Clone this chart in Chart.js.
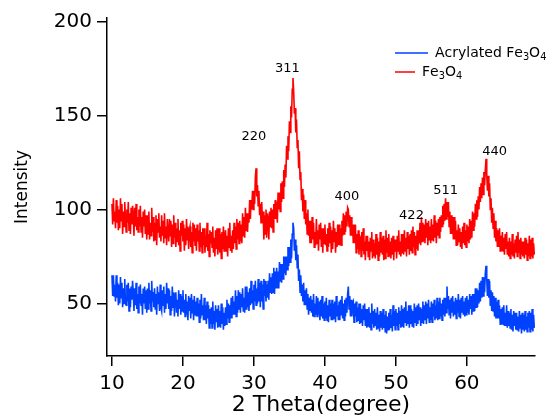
<!DOCTYPE html>
<html>
<head>
<meta charset="utf-8">
<script src="https://cdn.jsdelivr.net/npm/chart.js@4/dist/chart.umd.min.js"></script>
<style>
  html, body { margin: 0; padding: 0; background: #fff; }
  canvas { display: block; }
</style>
</head>
<body>
<canvas id="xrd" width="554" height="416"></canvas>
<script>
// 2 theta grid of the scan: 10.0 .. 69.5 in steps of 0.1 degree
const thetaStart = 10;
const thetaStep = 0.1;

const seriesNames = ['Acrylated Fe3O4', 'Fe3O4'];

// intensities, one row per degree (10.0 .. 10.9, 11.0 .. 11.9, ...)
const acrylated = [
  65,54,65,54,60,51,65,53,61,49,
  60,50,64,53,61,48,58,50,63,50,
  49,60,51,61,46,58,48,59,52,62,
  56,46,58,49,61,47,55,45,59,50,
  60,49,55,44,58,50,59,47,57,45,
  58,47,61,50,57,46,62,51,56,48,
  58,47,55,44,59,50,56,46,60,48,
  46,57,49,59,45,55,47,61,50,58,
  47,57,44,54,46,59,48,56,43,55,
  56,45,52,43,57,47,55,44,54,46,
  57,45,52,43,55,44,51,41,54,46,
  53,42,55,45,52,41,54,44,51,43,
  53,43,50,40,52,42,55,44,49,41,
  53,41,49,39,51,42,49,37,47,39,
  48,37,51,39,46,36,49,40,47,37,
  49,38,46,37,50,39,48,36,45,38,
  48,39,52,42,50,40,49,42,53,42,
  54,44,51,44,57,43,54,45,57,47,
  56,45,55,48,58,46,53,45,59,47,
  59,48,56,46,58,49,62,50,57,47,
  60,51,62,49,58,50,63,51,61,48,
  62,51,60,47,63,54,62,51,60,53,
  62,52,66,56,64,55,66,56,69,55,
  67,58,69,58,67,58,72,62,71,61,
  71,63,75,66,75,65,75,68,80,70,
  80,72,84,74,87,93,90,78,84,73,
  81,69,76,62,68,56,65,54,60,51,
  61,49,57,49,58,47,55,44,53,46,
  54,45,52,43,55,43,50,44,54,43,
  53,44,51,41,52,43,54,42,50,41,
  51,42,53,41,49,40,52,43,50,41,
  52,41,50,42,51,40,54,43,49,41,
  51,41,52,44,54,42,50,41,52,43,
  53,45,55,59,47,54,43,52,43,50,
  51,40,50,43,51,40,48,41,50,39,
  50,40,47,38,49,41,50,38,47,37,
  47,38,48,37,45,36,50,39,46,37,
  47,38,45,36,48,37,44,35,46,37,
  45,36,47,37,44,35,46,34,43,36,
  45,36,47,37,44,35,49,38,46,36,
  47,38,45,36,48,39,46,37,49,38,
  47,37,48,40,51,38,46,39,49,37,
  49,39,47,38,46,37,50,40,48,38,
  49,39,50,41,48,38,47,40,51,39,
  49,41,51,39,50,42,52,40,48,41,
  51,40,50,43,52,41,49,42,53,41,
  51,42,53,43,50,41,52,44,53,43,
  53,45,59,47,54,44,52,42,53,45,
  54,43,51,44,53,42,52,45,55,43,
  52,42,53,45,54,44,51,43,53,44,
  54,45,52,44,55,47,54,44,55,46,
  55,46,58,48,58,48,57,50,61,51,
  62,53,64,54,64,56,66,70,63,54,
  63,53,62,49,57,46,56,46,54,43,
  53,42,51,42,52,42,49,39,47,39,
  48,39,49,38,45,38,49,37,46,38,
  45,37,47,36,44,35,46,38,45,36,
  45,36,43,35,46,37,44,34,45,36,
  44,35,46,36,43,35,45,37,46,35,
  45,36,47,35,44,37
];

const bare = [
  103,92,106,94,99,90,105,93,102,89,
  100,90,106,94,103,87,99,91,104,95,
  88,100,93,104,89,98,87,101,92,102,
  97,86,101,91,103,89,96,88,100,91,
  102,88,96,85,99,91,100,87,97,84,
  97,87,99,84,93,86,101,88,96,83,
  93,84,97,81,95,88,98,85,91,83,
  97,86,94,82,98,85,91,81,95,88,
  83,95,86,94,80,92,82,97,85,93,
  80,90,83,95,81,89,78,93,86,94,
  83,92,78,90,81,95,84,91,79,89,
  91,80,88,77,93,83,92,81,90,78,
  92,83,89,78,93,80,88,77,90,81,
  90,77,86,80,93,78,87,75,89,82,
  88,80,91,77,85,75,89,79,90,76,
  81,90,77,87,74,88,79,91,78,86,
  89,78,86,75,90,80,93,78,86,77,
  89,79,93,82,91,79,95,84,93,82,
  94,83,92,82,98,86,96,85,101,89,
  98,88,98,93,105,95,105,100,110,100,
  110,103,117,122,107,113,102,110,97,103,
  93,104,93,99,84,97,87,100,85,98,
  95,84,99,91,101,90,100,88,103,95,
  105,95,104,93,109,100,109,99,114,104,
  115,106,121,112,124,117,134,127,139,131,
  147,141,155,149,164,170,163,151,154,141,
  148,133,137,122,131,116,120,105,111,99,
  108,95,105,92,98,87,100,86,94,82,
  94,82,96,84,93,80,88,81,95,82,
  89,78,92,84,93,80,90,77,90,82,
  92,81,87,78,90,80,93,82,91,77,
  89,79,94,83,90,77,88,80,92,81,
  92,81,90,81,94,86,98,87,97,88,
  99,91,101,100,91,97,86,96,86,92,
  82,92,82,92,77,87,79,89,76,86,
  85,75,88,78,90,76,83,73,86,78,
  86,75,83,73,85,78,88,74,84,75,
  82,74,87,76,85,73,83,75,88,77,
  85,76,86,73,84,74,89,77,85,75,
  87,75,83,74,85,76,86,73,84,78,
  84,74,86,78,89,76,83,75,87,77,
  87,76,89,78,85,75,88,79,86,76,
  87,78,89,77,91,80,88,76,86,79,
  89,78,89,82,93,81,96,83,93,83,
  92,82,95,85,93,81,94,84,91,82,
  95,84,92,83,97,85,94,82,93,86,
  95,85,96,88,97,91,102,92,103,94,
  106,95,104,96,104,91,99,87,97,87,
  96,84,96,84,94,81,89,81,92,83,
  90,80,88,79,91,82,93,81,89,80,
  92,83,91,82,95,84,94,85,99,89,
  98,91,103,95,105,96,107,100,112,104,
  114,106,117,108,120,113,121,127,119,110,
  118,107,114,100,106,93,101,90,98,85,
  94,83,90,80,89,80,90,78,86,78,
  88,78,85,76,87,79,88,76,83,75,
  85,74,83,76,87,75,82,74,84,77,
  86,75,88,77,84,74,85,76,83,75,
  83,74,85,76,84,73,82,75,86,74,
  84,75,85,74,82,76
];

// reflection indices and where their labels sit (2 theta, intensity)
const peakNames = ['220', '311', '400', '422', '511', '440'];
const peakTheta = [30.0, 34.7, 43.1, 52.2, 57.0, 63.9];
const peakLabelY = [139, 175, 107, 97, 110, 131];

const xTicks = [10, 20, 30, 40, 50, 60];
const yTicks = [50, 100, 150, 200];

const toPoints = (vals) => vals.map((v, i) => ({ x: +(thetaStart + i * thetaStep).toFixed(1), y: v }));

// writes "Fe3O4" with the digits as subscripts
function drawFormula(ctx, text, x, y, size) {
    let cx = x;
    for (const ch of text) {
        const sub = /[0-9]/.test(ch);
        ctx.font = (sub ? size * 0.7 : size) + "px 'DejaVu Sans', sans-serif";
        ctx.fillText(ch, cx, sub ? y + size * 0.3 : y);
        cx += ctx.measureText(ch).width;
    }
}

const peakLabelPlugin = {
    id: 'peakLabels',
    afterDatasetsDraw(chart) {
        const { ctx, scales } = chart;
        ctx.save();
        ctx.fillStyle = '#000';
        ctx.font = "13px 'DejaVu Sans', sans-serif";
        ctx.textAlign = 'center';
        ctx.textBaseline = 'middle';
        peakNames.forEach((name, i) => {
            ctx.fillText(name, scales.x.getPixelForValue(peakTheta[i]), scales.y.getPixelForValue(peakLabelY[i]));
        });
        ctx.restore();
    }
};

// legend with chemical subscripts, top right inside the plot
const formulaLegendPlugin = {
    id: 'formulaLegend',
    afterDraw(chart) {
        const ctx = chart.ctx;
        const rows = [
            { name: seriesNames[0], color: '#0040ff', x0: 395, x1: 428, tx: 435, y: 53 },
            { name: seriesNames[1], color: '#ff0000', x0: 395, x1: 415, tx: 422, y: 72 }
        ];
        ctx.save();
        ctx.textBaseline = 'middle';
        ctx.textAlign = 'left';
        rows.forEach(r => {
            ctx.strokeStyle = r.color;
            ctx.lineWidth = 1.5;
            ctx.beginPath();
            ctx.moveTo(r.x0, r.y);
            ctx.lineTo(r.x1, r.y);
            ctx.stroke();
            ctx.fillStyle = '#000';
            drawFormula(ctx, r.name, r.tx, r.y, 14);
        });
        ctx.restore();
    }
};

Chart.defaults.font.family = "'DejaVu Sans', sans-serif";
Chart.defaults.color = '#000';

new Chart(document.getElementById('xrd'), {
    type: 'line',
    data: {
        datasets: [
            {
                label: seriesNames[0],
                data: toPoints(acrylated),
                borderColor: '#0040ff',
                borderWidth: 1.6,
                pointRadius: 0,
                tension: 0,
                fill: false
            },
            {
                label: seriesNames[1],
                data: toPoints(bare),
                borderColor: '#ff0000',
                borderWidth: 1.6,
                pointRadius: 0,
                tension: 0,
                fill: false
            }
        ]
    },
    options: {
        responsive: false,
        animation: false,
        devicePixelRatio: 1,
        layout: { padding: { top: 18, right: 19, left: 0, bottom: 0 } },
        plugins: {
            legend: { display: false },
            tooltip: { enabled: false }
        },
        scales: {
            x: {
                type: 'linear',
                min: 9.3,
                max: 69.6,
                afterBuildTicks: (s) => { s.ticks = xTicks.map(v => ({ value: v })); },
                afterFit: (s) => { s.height = 60; },
                ticks: { font: { size: 20 }, color: '#000', padding: 6, maxRotation: 0 },
                grid: { display: true, drawOnChartArea: false, drawTicks: true, tickLength: 10, color: '#000', lineWidth: 1.5 },
                border: { display: true, color: '#000', width: 1.5 },
                title: { display: true, text: '2 Theta(degree)', font: { size: 22 }, color: '#000', padding: { top: 0, bottom: -2 } }
            },
            y: {
                min: 22,
                max: 202,
                afterBuildTicks: (s) => { s.ticks = yTicks.map(v => ({ value: v })); },
                afterFit: (s) => { s.width = 107; },
                ticks: { font: { size: 20 }, color: '#000', padding: 5 },
                grid: { display: true, drawOnChartArea: false, drawTicks: true, tickLength: 10, color: '#000', lineWidth: 1.5 },
                border: { display: true, color: '#000', width: 1.5 },
                title: { display: true, text: 'Intensity', font: { size: 17 }, color: '#000', padding: { top: 12, bottom: 0 } }
            }
        }
    },
    plugins: [peakLabelPlugin, formulaLegendPlugin]
});
</script>
</body>
</html>
